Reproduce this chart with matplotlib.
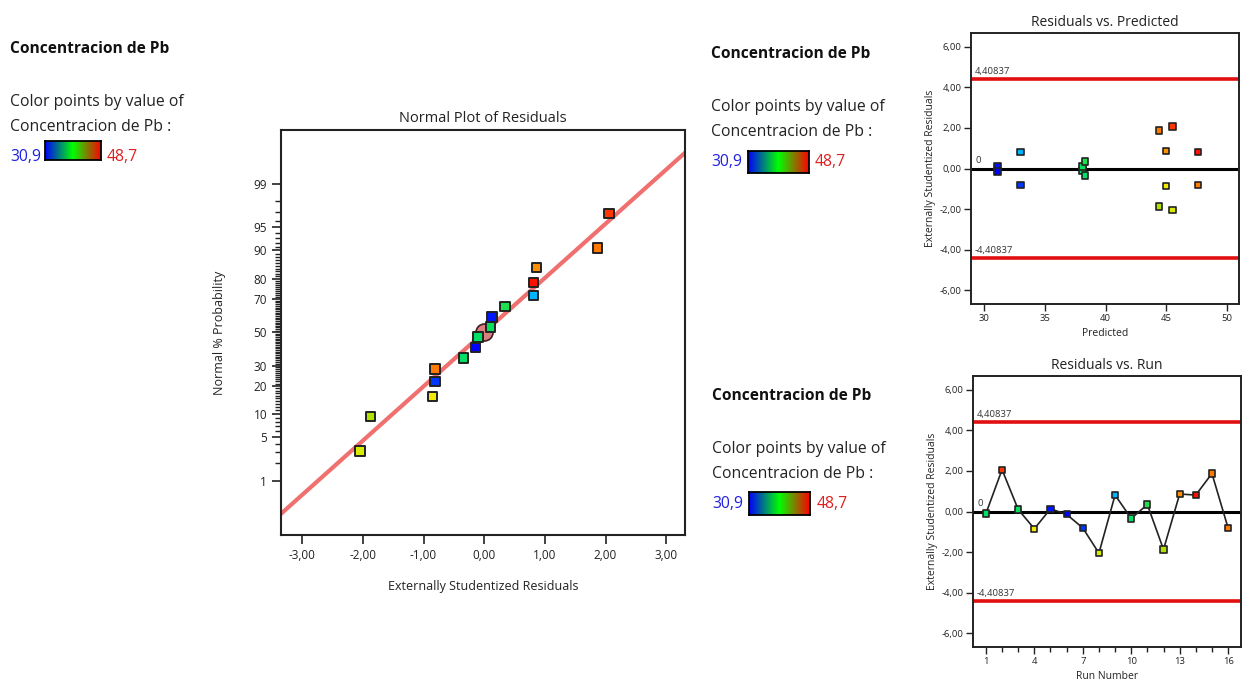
import matplotlib
matplotlib.use("Agg")
import matplotlib.pyplot as plt
import numpy as np
from matplotlib.colors import LinearSegmentedColormap, Normalize
from matplotlib.ticker import FuncFormatter, FixedLocator, FixedFormatter
from statistics import NormalDist

plt.rcParams['font.family'] = ['Open Sans', 'DejaVu Sans']

# diagnostics for Concentracion de Pb, one entry per run
runs = np.arange(1, 17)
predicted = [38.1, 45.5, 38.1, 45.0, 31.1, 31.1, 33.0, 45.5,
             33.0, 38.3, 38.3, 44.4, 45.0, 47.6, 44.4, 47.6]
residuals = [-0.10, 2.06, 0.10, -0.85, 0.13, -0.14, -0.81, -2.05,
             0.81, -0.34, 0.34, -1.87, 0.86, 0.81, 1.87, -0.81]
actual = [37.9, 47.9, 38.2, 43.9, 31.3, 30.9, 31.9, 43.1,
          34.1, 37.9, 38.7, 42.2, 46.1, 48.7, 46.6, 46.5]

pb_min, pb_max = 30.9, 48.7
limit = 4.40837
line_slope = 0.85  # fitted normal line, z per residual unit

prob_major = [1, 5, 10, 20, 30, 50, 70, 80, 90, 95, 99]
prob_minor = list(range(1, 100))

W, H = 1242, 689
fig = plt.figure(figsize=(W / 100, H / 100), dpi=100)

pt_cmap = LinearSegmentedColormap.from_list('pts', [
    (0.0, '#0000ff'), (0.2, '#00c8ff'), (0.4, '#00e060'),
    (0.62, '#a8e000'), (0.72, '#f0f000'), (0.86, '#ff8c00'),
    (1.0, '#ff1000')])
bar_cmap = LinearSegmentedColormap.from_list('bar', ['#0000ff', '#00ff00', '#ff0000'])
norm = Normalize(pb_min, pb_max)
colors = [pt_cmap(norm(v)) for v in actual]


def ax_px(left, top, right, bottom):
    return fig.add_axes([left / W, 1 - bottom / H, (right - left) / W, (bottom - top) / H])


def txt(x, y, s, **kw):
    fig.text(x / W, 1 - y / H, s, va='baseline', ha='left', **kw)


def comma_fmt():
    return FuncFormatter(lambda v, p: f'{v:.2f}'.replace('.', ','))


def color_key(x, y, bar_x0, bar_x1, bar_y0, bar_y1, x_hi):
    txt(x, y, 'Concentracion de Pb', fontsize=11.2, fontweight='bold', color='#111111')
    txt(x, y + 53, 'Color points by value of', fontsize=11.3, color='#222222')
    txt(x, y + 78, 'Concentracion de Pb :', fontsize=11.3, color='#222222')
    txt(x, y + 108, '30,9', fontsize=11.3, color='#2020e0')
    txt(x_hi, y + 108, '48,7', fontsize=11.3, color='#e02020')
    bax = ax_px(bar_x0, bar_y0, bar_x1, bar_y1)
    bax.imshow(np.linspace(0, 1, 256)[None, :], aspect='auto', cmap=bar_cmap)
    bax.set_xticks([])
    bax.set_yticks([])
    for s in bax.spines.values():
        s.set_linewidth(1.3)


color_key(10, 53, 45, 101, 141, 160, 107)
color_key(711, 58, 748, 809, 151, 173, 815)
color_key(712, 400, 749, 810, 492, 515, 817)

# normal probability plot, y axis on a probit scale
nd = NormalDist()
ax = ax_px(281, 130, 685, 535)
order = np.argsort(residuals)
n = len(residuals)
z_pts = [nd.inv_cdf((i + 0.5) / n) for i in range(n)]
x_sorted = [residuals[i] for i in order]
c_sorted = [colors[i] for i in order]
xl = (-3.35, 3.31)
ax.plot(xl, [line_slope * xl[0], line_slope * xl[1]], color='#f07070', lw=3, zorder=2)
ax.scatter([0], [0], s=150, marker='o', color='#d98080', edgecolor='#402020',
           linewidth=1.2, zorder=3)
ax.scatter(x_sorted, z_pts, s=46, marker='s', c=c_sorted, edgecolor='#222222',
           linewidth=1.4, zorder=4)
ax.set_xlim(*xl)
ax.set_ylim(-3.18, 3.17)
ax.set_xticks([-3, -2, -1, 0, 1, 2, 3])
ax.xaxis.set_major_formatter(comma_fmt())
for s in ax.spines.values():
    s.set_linewidth(1.5)
    s.set_color('#222222')
ax.set_title('Normal Plot of Residuals', fontsize=10.5, color='#222222', pad=6)
ax.set_xlabel('Externally Studentized Residuals', fontsize=9, color='#222222', labelpad=13)
ax.set_ylabel('Normal % Probability', fontsize=9, color='#222222', labelpad=20)


def residual_frame(a):
    for y in (limit, -limit):
        a.axhline(y, color='#e01010', lw=2.6, zorder=2)
    a.axhline(0, color='black', lw=2.2, zorder=2)
    a.set_ylim(-6.67, 6.67)
    a.set_yticks([-6, -4, -2, 0, 2, 4, 6])
    a.yaxis.set_major_formatter(comma_fmt())
    a.tick_params(axis='both', which='major', labelsize=6.8, length=5, width=1,
                  color='#222222', labelcolor='#222222', pad=2)
    a.tick_params(axis='x', which='minor', length=3.5, width=1, color='#222222')
    for s in a.spines.values():
        s.set_linewidth(1.4)
        s.set_color('#222222')
    a.set_ylabel('Externally Studentized Residuals', fontsize=7.5, color='#222222', labelpad=2)
    tf = a.get_yaxis_transform()
    a.text(0.015, limit + 0.25, '4,40837', transform=tf, fontsize=6.8, color='#333333')
    a.text(0.015, -limit + 0.25, '-4,40837', transform=tf, fontsize=6.8, color='#333333')
    a.text(0.015, 0.25, '0', transform=tf, fontsize=6.8, color='#333333')


# residuals vs predicted
ax2 = ax_px(971, 33, 1239, 304)
residual_frame(ax2)
ax2.scatter(predicted, residuals, s=22, marker='s', c=colors, edgecolor='#222222',
            linewidth=1.2, zorder=4)
ax2.set_xlim(28.9, 51.0)
ax2.set_xticks([30, 35, 40, 45, 50])
ax2.set_title('Residuals vs. Predicted', fontsize=10, color='#222222', pad=5)
ax2.set_xlabel('Predicted', fontsize=7.5, color='#222222', labelpad=4)

# residuals vs run
ax3 = ax_px(973, 376, 1241, 647)
residual_frame(ax3)
ax3.plot(runs, residuals, color='#222222', lw=1.2, zorder=3)
ax3.scatter(runs, residuals, s=20, marker='s', c=colors, edgecolor='#222222',
            linewidth=1.2, zorder=4)
ax3.set_xlim(0.2, 16.8)
ax3.set_xticks([1, 4, 7, 10, 13, 16])
ax3.set_xticks(runs, minor=True)
ax3.set_title('Residuals vs. Run', fontsize=10, color='#222222', pad=5)
ax3.set_xlabel('Run Number', fontsize=7.5, color='#222222', labelpad=4)

# probability ticks on the normal plot
ax.yaxis.set_major_locator(FixedLocator([nd.inv_cdf(p / 100) for p in prob_major]))
ax.yaxis.set_major_formatter(FixedFormatter([str(p) for p in prob_major]))
ax.yaxis.set_minor_locator(FixedLocator([nd.inv_cdf(p / 100) for p in prob_minor]))
ax.tick_params(axis='both', which='major', labelsize=8.5, length=6.5, width=1.2,
               color='#222222', labelcolor='#222222')
ax.tick_params(axis='y', which='minor', length=4.5, width=1.0, color='#222222')

fig.savefig('out.png', dpi=100, facecolor='white')
